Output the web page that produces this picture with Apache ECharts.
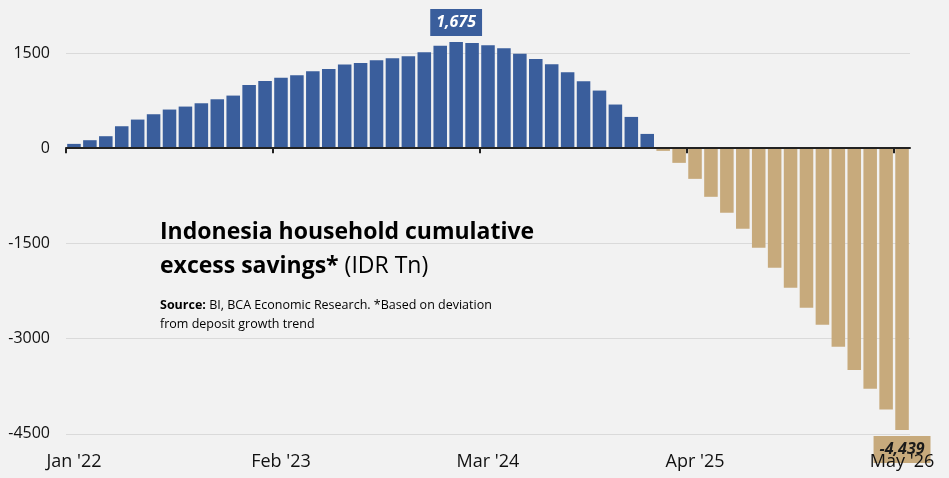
<!DOCTYPE html>
<html><head><meta charset="utf-8">
<script src="https://cdn.jsdelivr.net/npm/echarts@6/dist/echarts.min.js"></script>
<style>html,body{margin:0;padding:0;background:#f2f2f2}#c{width:949px;height:478px}</style>
</head><body><div id="c"></div>
<script>
const categories = [
  "Jan '22","Feb '22","Mar '22","Apr '22","May '22","Jun '22","Jul '22","Aug '22","Sep '22","Oct '22","Nov '22","Dec '22",
  "Jan '23","Feb '23","Mar '23","Apr '23","May '23","Jun '23","Jul '23","Aug '23","Sep '23","Oct '23","Nov '23","Dec '23",
  "Jan '24","Feb '24","Mar '24","Apr '24","May '24","Jun '24","Jul '24","Aug '24","Sep '24","Oct '24","Nov '24","Dec '24",
  "Jan '25","Feb '25","Mar '25","Apr '25","May '25","Jun '25","Jul '25","Aug '25","Sep '25","Oct '25","Nov '25","Dec '25",
  "Jan '26","Feb '26","Mar '26","Apr '26","May '26"
];
const values = [
  68, 126, 189, 346, 451, 535, 609, 656, 708, 771, 829, 996,
  1059, 1112, 1149, 1212, 1248, 1317, 1343, 1385, 1417, 1448, 1511, 1616,
  1675, 1657, 1621, 1574, 1490, 1406, 1322, 1196, 1055, 908, 688, 493,
  225, -42, -231, -483, -766, -1018, -1270, -1569, -1884, -2199, -2514, -2781,
  -3128, -3494, -3789, -4119, -4439
];
const tickIndex = [0, 13, 26, 39, 52];
const tickLabels = ["Jan '22", "Feb '23", "Mar '24", "Apr '25", "May '26"];
const yTicks = [-4500, -3000, -1500, 0, 1500];
const labelledIndex = [24, 52];

const FONT = 'Open Sans';
const BLUE = '#3a5e9c';
const TAN = '#c7aa7c';

const barData = values.map(function (v, i) {
  const item = { value: v, itemStyle: { color: v >= 0 ? BLUE : TAN } };
  if (labelledIndex.indexOf(i) >= 0) {
    const pos = v >= 0;
    item.label = {
      show: true,
      position: pos ? 'top' : 'bottom',
      distance: 6,
      formatter: function (p) { return Number(p.value).toLocaleString('en-US'); },
      fontFamily: FONT,
      fontStyle: 'italic',
      fontWeight: 'bold',
      fontSize: 16,
      color: pos ? '#ffffff' : '#1a1a1a',
      backgroundColor: pos ? BLUE : TAN,
      padding: [6, 6, 5, 6]
    };
  }
  return item;
});

const chart = echarts.init(document.getElementById('c'), null, { renderer: 'canvas' });
chart.setOption({
  backgroundColor: '#f2f2f2',
  animation: false,
  title: {
    left: 160,
    top: 215,
    padding: 0,
    itemGap: 24,
    text: '{b|Indonesia household cumulative}\n{b|excess savings*}{n| (IDR Tn)}',
    textStyle: {
      rich: {
        b: { fontFamily: FONT, fontWeight: 'bold', fontSize: 23, lineHeight: 34, color: '#000' },
        n: { fontFamily: FONT, fontWeight: 'normal', fontSize: 23, lineHeight: 34, color: '#000' }
      }
    },
    subtext: '{sb|Source:}{sn| BI, BCA Economic Research. *Based on deviation}\n{sn|from deposit growth trend}',
    subtextStyle: {
      rich: {
        sb: { fontFamily: FONT, fontWeight: 'bold', fontSize: 12.5, lineHeight: 19, color: '#000' },
        sn: { fontFamily: FONT, fontWeight: 'normal', fontSize: 12.5, lineHeight: 19, color: '#000' }
      }
    }
  },
  grid: { left: 66, right: 39, top: -42.2, bottom: 44.2, containLabel: false, outerBoundsMode: 'none' },
  xAxis: [
    {
      type: 'category', data: categories, position: 'bottom', z: 10,
      axisLine: { show: false, onZero: false }, axisTick: { show: false },
      axisLabel: {
        show: true, margin: 19, fontFamily: FONT, fontSize: 18, color: '#111',
        interval: function (index) { return tickIndex.indexOf(index) >= 0; },
        formatter: function (value, index) { const k = tickIndex.indexOf(index); return k >= 0 ? tickLabels[k] : value; }
      }
    },
    {
      type: 'value', min: 0, max: categories.length, position: 'bottom', z: 5,
      axisLine: { show: true, onZero: true, lineStyle: { color: '#222', width: 2 } },
      axisTick: { show: true, customValues: tickIndex, length: 5, lineStyle: { color: '#222', width: 2 } },
      axisLabel: { show: false },
      splitLine: { show: false }
    }
  ],
  yAxis: {
    type: 'value', min: -4500, max: 3000, interval: 1500,
    axisLine: { show: false }, axisTick: { show: false },
    splitLine: { lineStyle: { color: '#dadada', width: 1 } },
    axisLabel: {
      margin: 16, fontFamily: FONT, fontSize: 16, color: '#111',
      formatter: function (v) { return yTicks.indexOf(v) >= 0 ? String(v) : ''; }
    }
  },
  series: [{
    type: 'bar',
    xAxisIndex: 0,
    data: barData,
    barCategoryGap: '15%'
  }]
});
</script></body></html>
